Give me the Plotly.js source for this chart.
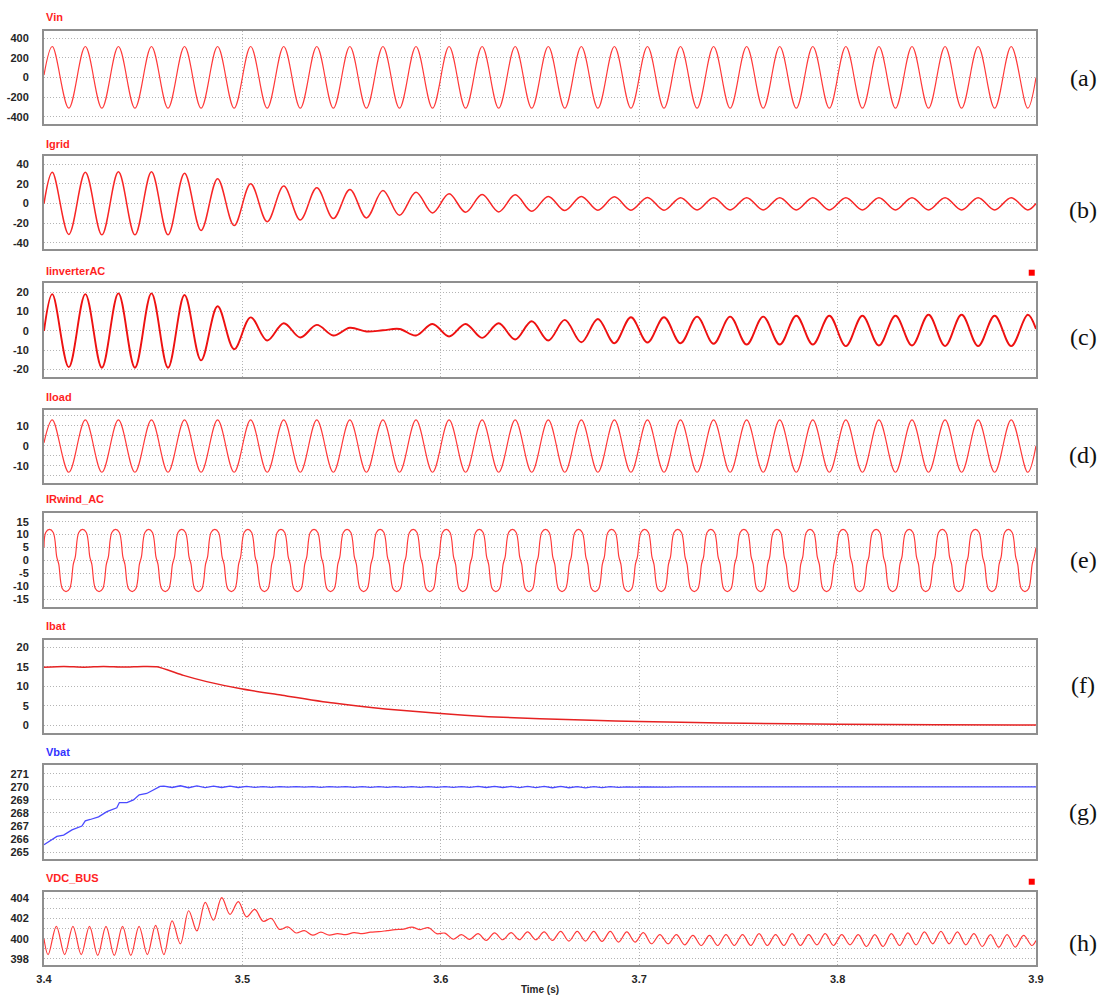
<!DOCTYPE html>
<html>
<head>
<meta charset="utf-8">
<script src="https://cdn.plot.ly/plotly-3.0.1.min.js"></script>
<style>
html,body{margin:0;padding:0;background:#fff;}
#chart{width:1106px;height:998px;}
</style>
</head>
<body>
<div id="chart"></div>
<script>
// ================= DATA =================
const T_START = 3.4;
const T_END = 3.9;
const LINE_FREQ = 60;        // Hz: 30 full cycles in 0.5 s
const BUS_RIPPLE_FREQ = 120; // Hz: 60 ripple cycles in 0.5 s
const IRWIND_LEAD = 0.0014;  // s: IRwind_AC peaks lead the other AC signals

const xTickVals = [3.4, 3.5, 3.6, 3.7, 3.8, 3.9];
const xTickText = ['3.4', '3.5', '3.6', '3.7', '3.8', '3.9'];

const panelTitles = ['Vin', 'Igrid', 'IinverterAC', 'Iload', 'IRwind_AC', 'Ibat', 'Vbat', 'VDC_BUS'];
const panelLabels = ['(a)', '(b)', '(c)', '(d)', '(e)', '(f)', '(g)', '(h)'];

// y tick values per panel
const vinTicks = [-400, -200, 0, 200, 400];
const igridTicks = [-40, -20, 0, 20, 40];
const iinvTicks = [-20, -10, 0, 10, 20];
const iloadTicks = [-10, 0, 10];
const iloadGrid = [-15, -10, -5, 0, 5, 10, 15];
const irwindTicks = [-15, -10, -5, 0, 5, 10, 15];
const ibatTicks = [0, 5, 10, 15, 20];
const vbatTicks = [265, 266, 267, 268, 269, 270, 271];
const vdcTicks = [398, 400, 402, 404];
const vdcGrid = [398, 399, 400, 401, 402, 403, 404];

// ---- 60 Hz signals: value at each half-cycle extremum (peak / trough), 60 per signal ----
const vinExt = [
 316,-313, 316,-313, 316,-313, 316,-313, 316,-313, 316,-313, 316,-313, 316,-313, 316,-313, 316,-313,
 316,-313, 316,-313, 316,-313, 316,-313, 316,-313, 316,-313, 316,-313, 316,-313, 316,-313, 316,-313,
 316,-313, 316,-313, 316,-313, 316,-313, 316,-313, 316,-313, 316,-313, 316,-313, 316,-313, 316,-313];
const vinEnds = [25, 0];

const igridExt = [
 32, -31.5, 32, -32, 32.5, -32, 32.5, -32, 31, -27.5,
 25.4, -22.5, 20.2, -18.5, 17.8, -16.8, 16.1, -15.4, 14.4, -14.7,
 13.3, -12, 11.6, -9.6, 9.9, -8.9, 9.2, -8.6, 8.9, -7.9,
 7.2, -7.2, 7.2, -6.8, 6.8, -6.8, 6.2, -6.8, 6.0, -6.6,
 6.0, -6.6, 6.0, -6.6, 6.0, -6.6, 5.9, -6.6, 6.0, -6.6,
 6.0, -6.6, 5.9, -6.6, 6.0, -6.6, 6.0, -6.6, 6.0, -6.5];
const igridEnds = [0, 0];

const iinvExt = [
 19.1, -18.8, 19.1, -19.1, 19.5, -19.1, 19.5, -19.1, 18.6, -15.3,
 12.8, -9.5, 7.0, -5.0, 4.0, -3.4, 3.1, -2.4, 1.6, -0.3,
 0.3, 1.0, -2.4, 3.6, -2.9, 3.6, -3.6, 4.0, -4.5, 5.0,
 -5.0, 5.7, -5.9, 6.2, -6.4, 7.1, -6.0, 7.1, -6.4, 7.4,
 -6.7, 7.4, -7.1, 7.4, -7.1, 7.9, -7.1, 7.9, -7.9, 7.9,
 -7.6, 7.9, -7.6, 8.4, -7.9, 8.4, -7.9, 7.9, -7.9, 8.4];
const iinvEnds = [0, 1];

const iloadExt = [
 12.9,-13.2, 12.9,-13.2, 12.9,-13.2, 12.9,-13.2, 12.9,-13.2, 12.9,-13.2, 12.9,-13.2, 12.9,-13.2, 12.9,-13.2, 12.9,-13.2,
 12.9,-13.2, 12.9,-13.2, 12.9,-13.2, 12.9,-13.2, 12.9,-13.2, 12.9,-13.2, 12.9,-13.2, 12.9,-13.2, 12.9,-13.2, 12.9,-13.2,
 12.9,-13.2, 12.9,-13.2, 12.9,-13.2, 12.9,-13.2, 12.9,-13.2, 12.9,-13.2, 12.9,-13.2, 12.9,-13.2, 12.9,-13.2, 12.9,-13.2];
const iloadEnds = [1.5, 0];

const irwindExt = [
 12,-12, 12,-12, 12,-12, 12,-12, 12,-12, 12,-12, 12,-12, 12,-12, 12,-12, 12,-12,
 12,-12, 12,-12, 12,-12, 12,-12, 12,-12, 12,-12, 12,-12, 12,-12, 12,-12, 12,-12,
 12,-12, 12,-12, 12,-12, 12,-12, 12,-12, 12,-12, 12,-12, 12,-12, 12,-12, 12,-12];
const irwindEnds = [5.1, 5];
const irwindEdge = 10.8;     // level at the edges of the flattened tops
const irwindEdgeDt = 0.0019; // s from the peak centre
const irwindKnee = 1.4;      // level of the small shoulder at each zero crossing
const irwindKneeDt = 0.0005; // s

// ---- DC bus: value at each 120 Hz half-cycle extremum (120 values) ----
const vdcExt = [
 398.43, 401.23, 398.43, 401.23, 398.43, 401.23, 398.35, 401.23, 398.35, 401.23,
 398.35, 401.23, 398.43, 401.33, 398.43, 401.77, 399.5, 402.77, 400.77, 403.6,
 401.83, 404.07, 402.4, 403.67, 402.17, 402.9, 401.73, 402.0, 400.93, 401.17,
 400.57, 400.8, 400.35, 400.65, 400.35, 400.5, 400.4, 400.6, 400.5, 400.65,
 400.7, 400.8, 400.9, 400.95, 401.15, 400.9, 401.1, 400.5, 400.55, 399.95,
 400.4, 399.93, 400.5, 399.83, 400.57, 399.9, 400.6, 399.9, 400.67, 399.9,
 400.67, 399.83, 400.73, 399.77, 400.73, 399.77, 400.73, 399.73, 400.73, 399.67,
 400.67, 399.67, 400.6, 399.5, 400.4, 399.5, 400.4, 399.4, 400.33, 399.33,
 400.33, 399.33, 400.4, 399.33, 400.4, 399.33, 400.5, 399.33, 400.4, 399.33,
 400.5, 399.33, 400.4, 399.4, 400.5, 399.33, 400.4, 399.4, 400.4, 399.23,
 400.4, 399.23, 400.5, 399.33, 400.57, 399.4, 400.67, 399.5, 400.73, 399.5,
 400.67, 399.4, 400.5, 399.23, 400.4, 399.17, 400.4, 399.17, 400.33, 399.33];
const vdcEnds = [400.0, 399.83];

// ---- Ibat (A) ----
const ibatTime = [3.4, 3.41, 3.42, 3.43, 3.44, 3.45, 3.457, 3.4703, 3.482, 3.5, 3.52, 3.546, 3.572,
                  3.6, 3.624, 3.65, 3.676, 3.7, 3.728, 3.754, 3.8, 3.85, 3.9];
const ibatVal  = [14.9, 15.1, 14.9, 15.1, 14.95, 15.1, 15.0, 12.8, 11.2, 9.3, 7.7, 5.7, 4.2,
                  3.0, 2.2, 1.7, 1.3, 0.95, 0.7, 0.5, 0.3, 0.15, 0.05];

// ---- Vbat (V) ----
const vbatRampTime = [3.4, 3.4065, 3.4099, 3.4141, 3.4191, 3.4208, 3.4233, 3.4275, 3.4317, 3.4367,
                      3.438, 3.4418, 3.4451, 3.448, 3.4518, 3.4569, 3.4585];
const vbatRampVal  = [265.56, 266.2, 266.3, 266.7, 267.0, 267.4, 267.5, 267.7, 268.1, 268.4,
                      268.8, 268.8, 269.0, 269.4, 269.5, 269.95, 270.05];
const vbatRippleFirst = 14;  // first 120 Hz half-cycle index of the ripple
const vbatRipple = [
 270.07, 269.96, 270.09, 269.94, 270.08, 269.95, 270.07, 269.96, 270.06, 269.96,
 270.04, 269.97, 270.03, 269.97, 270.03, 269.98, 270.03, 269.98, 270.03, 269.97,
 270.03, 269.98, 270.03, 269.97, 270.03, 269.97, 270.03, 269.97, 270.03, 269.97,
 270.03, 269.97, 270.03, 269.97, 270.03, 269.97, 270.03, 269.97, 270.04, 269.96,
 270.04, 269.96, 270.04, 269.95, 270.04, 269.95, 270.04, 269.94, 270.04, 269.94,
 270.03, 269.93, 270.03, 269.95, 270.02, 269.97, 270.01, 269.98, 270.01, 269.99,
 270.01, 269.99, 270.0, 270.0];
const vbatTailTime = [3.74, 3.9];
const vbatTailVal = [270.0, 270.0];

// ================= HELPERS =================
function extremaTimes(freq, n, shift) {
  const t = [];
  for (let k = 0; k < n; k++) t.push(T_START + (2 * k + 1) / (4 * freq) - (shift || 0));
  return t;
}
function withEnds(times, vals, ends) {
  return { x: [T_START].concat(times, [T_END]), y: [ends[0]].concat(vals, [ends[1]]) };
}
function irwindSeries() {
  const tk = extremaTimes(LINE_FREQ, irwindExt.length, IRWIND_LEAD);
  const q = 1 / (4 * LINE_FREQ);
  const x = [T_START], y = [irwindEnds[0]];
  const push = (t, v) => { if (t > T_START && t < T_END) { x.push(t); y.push(v); } };
  irwindExt.forEach((v, k) => {
    const s = Math.sign(v);
    push(tk[k] - irwindEdgeDt, s * irwindEdge);
    push(tk[k], v);
    push(tk[k] + irwindEdgeDt, s * irwindEdge);
    push(tk[k] + q - irwindKneeDt, s * irwindKnee);
    push(tk[k] + q + irwindKneeDt, -s * irwindKnee);
  });
  x.push(T_END); y.push(irwindEnds[1]);
  return { x, y };
}

// ================= LAYOUT =================
const RED = '#ff3a3a';
const BLUE = '#4a4aff';
const GRID = '#b4b4b4';
const FRAME = '#8f8f8f';
const DOTS = '1px,2px';
const tickFont = { family: '"Liberation Sans", Arial, sans-serif', size: 11, color: '#262626', weight: 'bold' };

// panel boxes: [bottom, top] as fractions of plot height
const domains = [
  [0.8715, 0.9682], [0.7417, 0.8383], [0.6096, 0.7064], [0.5000, 0.5751],
  [0.3713, 0.4681], [0.2407, 0.3368], [0.1095, 0.2073], [0.0000, 0.0753]
];
const yRanges = [[-474, 477], [-46.7, 48.5], [-23.8, 24.7], [-18.3, 17.8],
                 [-17.86, 18.25], [-1.9, 21.87], [264.44, 271.69], [397.4, 404.59]];
const yTicks = [vinTicks, igridTicks, iinvTicks, iloadTicks, irwindTicks, ibatTicks, vbatTicks, vdcTicks];
const yGrids = [vinTicks, igridTicks, iinvTicks, iloadGrid, irwindTicks, ibatTicks, vbatTicks, vdcGrid];
const titleY = [0.9821, 0.8508, 0.7195, 0.5889, 0.4826, 0.3513, 0.2207, 0.0902];
const labelY = [0.9192, 0.7824, 0.6508, 0.5285, 0.4197, 0.2902, 0.1585, 0.0228];
const titleColors = ['#ff1f1f', '#ff1f1f', '#ff1f1f', '#ff1f1f', '#ff1f1f', '#ff1f1f', '#3232ff', '#ff1f1f'];

const layout = {
  width: 1106, height: 998,
  margin: { l: 44, r: 70, t: 0, b: 33 },
  paper_bgcolor: '#ffffff', plot_bgcolor: '#ffffff',
  showlegend: false,
  annotations: [], shapes: []
};

for (let i = 0; i < 8; i++) {
  const n = i + 1;
  const sfx = n === 1 ? '' : String(n);
  layout['xaxis' + sfx] = {
    domain: [0, 1], anchor: 'y' + sfx, range: [T_START, T_END],
    tickmode: 'array', tickvals: xTickVals, ticktext: xTickText,
    showticklabels: n === 8, ticks: '', tickfont: tickFont, ticklabelstandoff: 3,
    showgrid: true, gridcolor: GRID, griddash: DOTS, gridwidth: 1,
    zeroline: false, showline: true, mirror: true, linecolor: FRAME, linewidth: 2,
    fixedrange: true
  };
  if (n > 1) layout['xaxis' + sfx].matches = 'x';
  if (n === 8) {
    layout['xaxis' + sfx].title = { text: 'Time (s)', font: { family: tickFont.family, size: 10, color: '#262626', weight: 'bold' }, standoff: 2 };
  }
  layout['yaxis' + sfx] = {
    domain: domains[i], anchor: 'x' + sfx, range: yRanges[i],
    tickmode: 'array', tickvals: yTicks[i], ticktext: yTicks[i].map(String),
    ticks: '', tickfont: tickFont, ticklabelstandoff: 11,
    showgrid: true, gridcolor: GRID, griddash: DOTS, gridwidth: 1,
    minor: { tickmode: 'array', tickvals: yGrids[i], showgrid: true, gridcolor: GRID, griddash: DOTS, gridwidth: 1, ticks: '' },
    zeroline: false, showline: true, mirror: true, linecolor: FRAME, linewidth: 2,
    fixedrange: true
  };
  layout.annotations.push({
    xref: 'paper', yref: 'paper', x: 0, y: titleY[i], xanchor: 'left', yanchor: 'middle',
    text: panelTitles[i], showarrow: false,
    font: { family: tickFont.family, size: 11, color: titleColors[i], weight: 'bold' }
  });
  layout.annotations.push({
    xref: 'paper', yref: 'paper', x: 1.0474, y: labelY[i], xanchor: 'center', yanchor: 'middle',
    text: panelLabels[i], showarrow: false,
    font: { family: '"Liberation Serif", "Times New Roman", serif', size: 24, color: '#111111' }
  });
}
// small legend squares of panels (c) and (h)
[0.7174, 0.0863].forEach(yy => {
  layout.shapes.push({
    type: 'rect', xref: 'paper', yref: 'paper', xsizemode: 'pixel', ysizemode: 'pixel',
    xanchor: 0.9957, yanchor: yy, x0: -3, x1: 3, y0: -3, y1: 3,
    fillcolor: '#ff0000', line: { width: 0 }
  });
});

// ================= TRACES =================
const t60 = extremaTimes(LINE_FREQ, 60);
const t120 = extremaTimes(BUS_RIPPLE_FREQ, 120);

function lineTrace(n, xy, color, width, shape, smoothing) {
  const sfx = n === 1 ? '' : String(n);
  return {
    type: 'scatter', mode: 'lines', x: xy.x, y: xy.y,
    xaxis: 'x' + sfx, yaxis: 'y' + sfx, hoverinfo: 'skip',
    line: { color: color, width: width, shape: shape, smoothing: smoothing }
  };
}

const vbatXY = {
  x: vbatRampTime.concat(t120.slice(vbatRippleFirst, vbatRippleFirst + vbatRipple.length), vbatTailTime),
  y: vbatRampVal.concat(vbatRipple, vbatTailVal)
};

const traces = [
  lineTrace(1, withEnds(t60, vinExt, vinEnds), RED, 1.2, 'spline', 1),
  lineTrace(2, withEnds(t60, igridExt, igridEnds), '#f82626', 1.5, 'spline', 1),
  lineTrace(3, withEnds(t60, iinvExt, iinvEnds), '#ee1111', 1.9, 'spline', 1),
  lineTrace(4, withEnds(t60, iloadExt, iloadEnds), RED, 1.2, 'spline', 1),
  lineTrace(5, irwindSeries(), RED, 1.2, 'spline', 1),
  lineTrace(6, { x: ibatTime, y: ibatVal }, '#e62222', 1.5, 'spline', 0.6),
  lineTrace(7, vbatXY, BLUE, 1.3, 'linear'),
  lineTrace(8, withEnds(t120, vdcExt, vdcEnds), RED, 1.2, 'spline', 1)
];

Plotly.newPlot('chart', traces, layout, { staticPlot: true, displayModeBar: false });
</script>
</body>
</html>
